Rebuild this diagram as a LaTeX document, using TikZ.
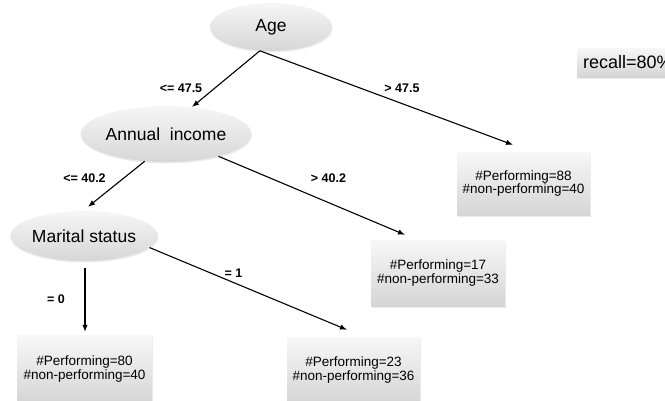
\documentclass[tikz,border=0pt]{standalone}
\usepackage{fontspec}
\setmainfont{Liberation Sans}
\usetikzlibrary{shapes.geometric,arrows.meta,calc,shadows}
\begin{document}
\begin{tikzpicture}[x=1pt,y=-1pt,
  splitnode/.style={ellipse, inner sep=0pt, draw=none, top color=gray!7, bottom color=gray!32,
    font=\fontsize{17.5}{20}\selectfont,
    drop shadow={opacity=0.15, shadow xshift=0.6pt, shadow yshift=-1.5pt}},
  leafbox/.style={rectangle, inner sep=0pt, draw=none, top color=gray!6, bottom color=gray!33,
    align=center, font=\fontsize{13.5}{13.5}\selectfont,
    drop shadow={opacity=0.15, shadow xshift=1pt, shadow yshift=-1.5pt}},
  edgelab/.style={font=\bfseries\fontsize{12.5}{14}\selectfont},
  conn/.style={-{Latex[length=7pt,width=5.5pt]}, line width=1.1pt}]
\useasboundingbox (0,0) rectangle (665,400);

\node[splitnode, minimum width=122pt, minimum height=48pt] (age) at (271,27) {Age};
\node[splitnode, minimum width=140pt, minimum height=56pt] (inc) at (166,134) {Annual\ \ income};
\node[splitnode, minimum width=144pt, minimum height=50pt] (mar) at (84,236) {Marital status};

\node[leafbox, minimum width=133pt, minimum height=63pt] (l88) at (523.5,183.5) {\#Performing=88\\\#non-performing=40};
\node[leafbox, minimum width=134pt, minimum height=66pt] (l17) at (438,273) {\#Performing=17\\\#non-performing=33};
\node[leafbox, minimum width=135pt, minimum height=68pt] (l80) at (84.5,369) {\#Performing=80\\\#non-performing=40};
\node[leafbox, minimum width=133pt, minimum height=66pt] (l23) at (353.5,370) {\#Performing=23\\\#non-performing=36};

\node[leafbox, anchor=west, text width=98pt, inner xsep=6pt, minimum height=29pt, align=left,
  font=\fontsize{18}{18}\selectfont] (rec) at (577,62.5) {recall=80\%};

\draw[conn] (age.245) -- ($(inc.center)+(26,-27)$);
\draw[conn] (age.245) -- ($(l88.north)+(-10.5,-7)$);
\draw[conn] (inc.232) -- ($(mar.north)+(4,-4)$);
\draw[conn] (inc.337) -- ($(l17.north)+(-33,-5)$);
\draw[conn] ($(mar.south)+(1,7)$) -- ($(l80.north)+(0.5,-3)$);
\draw[conn] (mar.350) -- ($(l23.north)+(-6.5,-7)$);

\node[edgelab] (la1) at (181,88) {<= 47.5};
\node[edgelab] (la2) at (402,88) {> 47.5};
\node[edgelab] (la3) at (84.5,178) {<= 40.2};
\node[edgelab] (la4) at (328.5,178) {> 40.2};
\node[edgelab] (la5) at (56,299) {= 0};
\node[edgelab] (la6) at (233.5,273) {= 1};
\end{tikzpicture}
\end{document}
